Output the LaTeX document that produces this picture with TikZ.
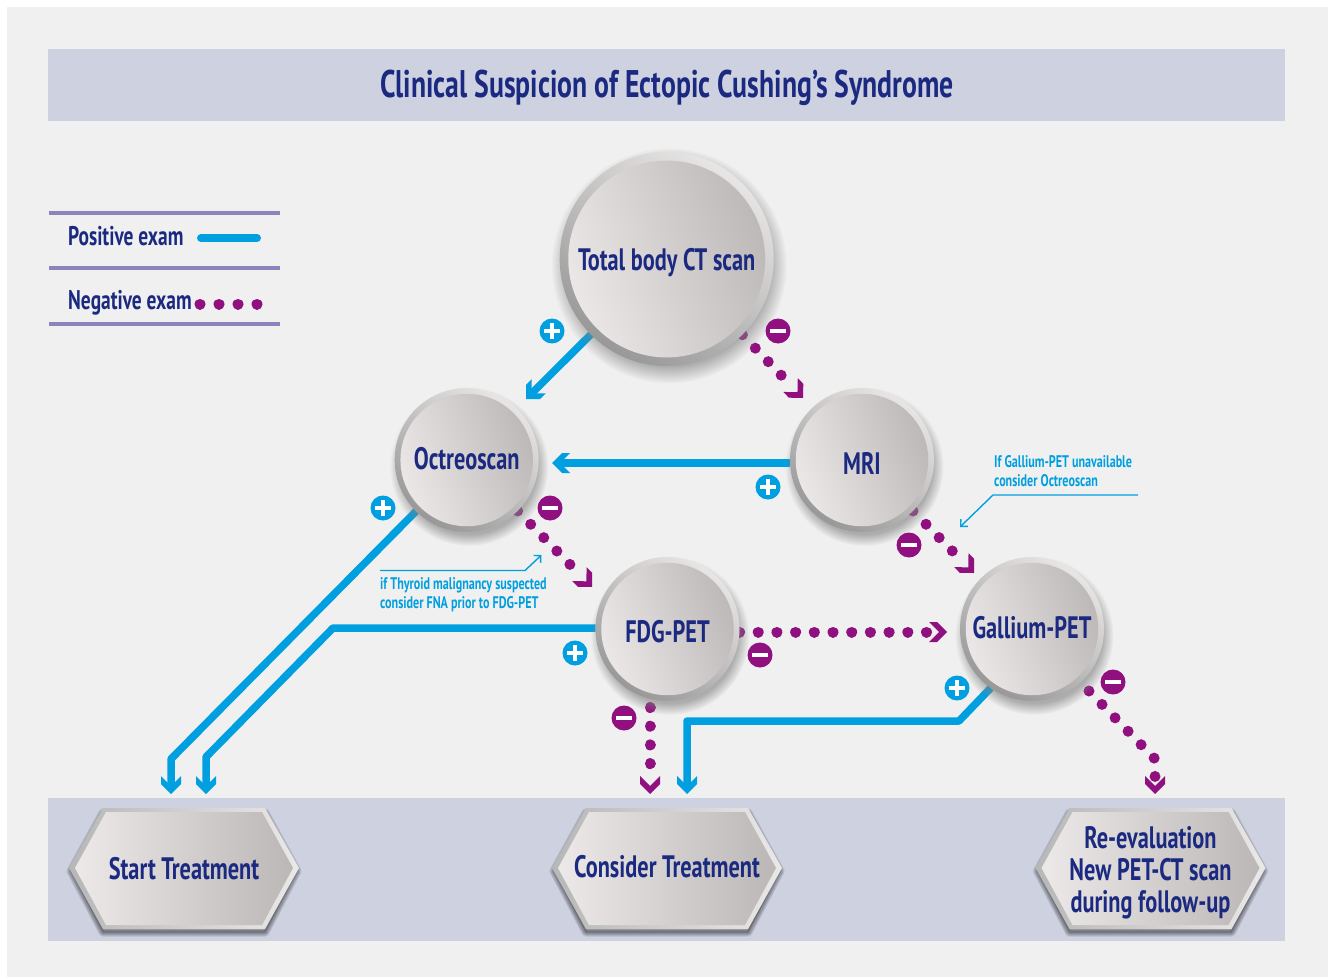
\documentclass[tikz,border=0pt]{standalone}
\usepackage{fontspec}
\setmainfont[FakeStretch=0.72]{PT Sans}
\usetikzlibrary{arrows.meta, shadows, backgrounds}

\definecolor{navytext}{HTML}{1B2A80}
\definecolor{posblue}{HTML}{009FE0}
\definecolor{negpurple}{HTML}{90107F}
\definecolor{bandblue}{HTML}{CDD1E0}
\definecolor{pagegray}{HTML}{F0F0F0}
\definecolor{legendline}{HTML}{8F83BB}
\definecolor{discdark}{HTML}{BAB7B6}
\definecolor{disclight}{HTML}{ECE9E8}
\definecolor{ringdark}{HTML}{989898}
\definecolor{ringlight}{HTML}{E8E6E5}

\pgfdeclarearrow{
  name = Chevron,
  defaults = {length=7pt},
  setup code = {
    \pgfarrowssettipend{0pt}
    \pgfarrowssetbackend{-18pt}
    \pgfarrowssetlineend{-\pgfarrowlength}
  },
  drawing code = {
    \pgfpathmoveto{\pgfqpoint{0pt}{0pt}}
    \pgfpathlineto{\pgfqpoint{-10pt}{10pt}}
    \pgfpathlineto{\pgfqpoint{-18pt}{10pt}}
    \pgfpathlineto{\pgfqpoint{-8pt}{0pt}}
    \pgfpathlineto{\pgfqpoint{-18pt}{-10pt}}
    \pgfpathlineto{\pgfqpoint{-10pt}{-10pt}}
    \pgfpathclose
    \pgfusepathqfill
  }
}

\newcommand{\nudged}[2]{\raisebox{#1}[\height][\depth]{#2}}

\tikzset{
  bubble/.style={circle, minimum size=#1pt, inner sep=0pt, outer sep=0pt,
    top color=ringlight, bottom color=ringdark, shading angle=-35,
    text=navytext, font=\fontsize{31}{34}\selectfont\bfseries,
    circular drop shadow={shadow xshift=2pt, shadow yshift=-6pt, shadow scale=1.1, opacity=.6},
    path picture={\shade[top color=discdark, bottom color=disclight, shading angle=-70]
      (path picture bounding box.center) circle ({#1*.46});}},
  posline/.style={posblue, line width=7.5pt, line join=round, -{Chevron}},
  negline/.style={negpurple, line width=11pt, line cap=round,
    dash pattern=on 0.01pt off 18.69pt, -{Chevron}},
  negshort/.style={negline, -{Chevron[length=15pt]}},
  plusmark/.style={circle, minimum size=25pt, inner sep=0pt, fill=posblue,
    path picture={\fill[white] ([shift={(-8,-1.8)}]path picture bounding box.center) rectangle ++(16,3.6);
      \fill[white] ([shift={(-1.8,-8)}]path picture bounding box.center) rectangle ++(3.6,16);}},
  minusmark/.style={circle, minimum size=25pt, inner sep=0pt, fill=negpurple,
    path picture={\fill[white] ([shift={(-8,-2.2)}]path picture bounding box.center) rectangle ++(16,4.4);}},
  notetext/.style={text=posblue, align=left, anchor=west, inner sep=0pt,
    font=\fontsize{16.8}{19}\selectfont\bfseries},
  noteline/.style={posblue, line width=1.4pt, -{Straight Barb[length=5pt,width=10pt]}},
  legendrule/.style={legendline, line width=4pt},
  legendtext/.style={text=navytext, anchor=west, inner sep=0pt,
    font=\fontsize{27}{30}\selectfont\bfseries},
  hextext/.style={text=navytext, align=center, inner sep=0pt,
    font=\fontsize{31}{32}\selectfont\bfseries}
}

\begin{document}
\begin{tikzpicture}[x=1pt, y=-1pt]
    \useasboundingbox (0,0) rectangle (1333,979);
    \begin{scope}[on background layer]
        \fill[white] (0,0) rectangle (1333,979);
        \fill[pagegray] (7,7) rectangle (1328,977);
    \end{scope}
    \fill[bandblue] (48,49) rectangle (1285,121);
    \fill[bandblue] (48,798) rectangle (1285,941);
    \node[text=navytext, font=\fontsize{38.5}{40}\selectfont\bfseries] (title) at (667,88) {Clinical Suspicion of Ectopic Cushing’s Syndrome};

    % legend
    \foreach \ly in {213,268,324}
        \draw[legendrule] (49,\ly) -- (280,\ly);
    \node[legendtext] (legpos) at (68,236.5) {Positive exam};
    \node[legendtext] (legneg) at (68,302.5) {Negative exam};
    \draw[posblue, line width=8pt, line cap=round] (201,238) -- (257,238);
    \draw[negpurple, line width=11pt, line cap=round, dash pattern=on 0.01pt off 18.99pt] (200,304) -- (258,304);

    % hexagons
    \foreach \hname/\cx/\hy/\htxt in {start/184/869/{Start Treatment}, cons/667/867/{Consider Treatment}, reev/1150.5/873/{Re-evaluation\\New PET-CT scan\\during follow-up}} {
        \foreach \w in {1,3,...,9}
            \draw[black, opacity=.1, line width=\w pt, line join=round, fill=black, fill opacity=.02]
                (\cx-113,871) -- (\cx-81,813) -- (\cx+81,813) -- (\cx+113,871) -- (\cx+81,932) -- (\cx-81,932) -- cycle;
        \shade[left color=ringdark!70!white, right color=ringlight!90!white]
            (\cx-115,868) -- (\cx-81,808) -- (\cx+81,808) -- (\cx+115,868) -- (\cx+81,929) -- (\cx-81,929) -- cycle;
        \shade[left color=disclight, right color=discdark]
            (\cx-109,868) -- (\cx-78,812) -- (\cx+78,812) -- (\cx+109,868) -- (\cx+78,925) -- (\cx-78,925) -- cycle;
        \node[hextext] (\hname) at (\cx,\hy) {\htxt};
    }

    % discs
    \node[bubble=214] (ct) at (666.7,259) {\nudged{-4pt}{Total body CT scan}};
    \node[bubble=144] (octreo) at (466.7,460) {\nudged{1pt}{Octreoscan}};
    \node[bubble=144] (mri) at (862,460) {\nudged{-3pt}{MRI}};
    \node[bubble=144] (fdg) at (667.5,629) {\nudged{-3pt}{FDG-PET}};
    \node[bubble=144] (gallium) at (1032,629) {\nudged{1pt}{Gallium-PET}};

    % free ends of the connectors
    \coordinate (octintop) at (526,399);
    \coordinate (octin) at (552,463);
    \coordinate (mriin) at (803,398);
    \coordinate (fdgin) at (592,587);
    \coordinate (galin) at (974,573);
    \coordinate (galside) at (947,632);
    \coordinate (startbenda) at (171,759);
    \coordinate (starta) at (171,794);
    \coordinate (startbendb1) at (333,628);
    \coordinate (startbendb2) at (206,757);
    \coordinate (startb) at (206,794);
    \coordinate (consbend1) at (959,721);
    \coordinate (consbend2) at (687,721);
    \coordinate (consa) at (687,794);
    \coordinate (consstart) at (650,707.5);
    \coordinate (consb) at (650,794);
    \coordinate (restart) at (1089,691);
    \coordinate (rebend) at (1155,759);
    \coordinate (reend) at (1155,794);

    \begin{scope}[on background layer]
        % blue connectors
        \draw[posline] (ct) -- (octintop);
        \draw[posline] (mri.west |- octin) -- (octin);
        \draw[posline] (octreo) -- (startbenda) -- (starta);
        \draw[posline] (fdg.west |- startbendb1) -- (startbendb1) -- (startbendb2) -- (startb);
        \draw[posline] (gallium.-125) -- (consbend1) -- (consbend2) -- (consa);

        % purple connectors
        \draw[negshort] (ct.-45) -- (mriin);
        \draw[negshort] (octreo.-45) -- (fdgin);
        \draw[negshort] (mri.-45) -- (galin);
        \draw[negline] (fdg.east |- galside) -- (galside);
        \draw[negshort] (consstart) -- (consb);
        \draw[negline] (restart) -- (rebend) -- (reend);
    \end{scope}

    % plus and minus marks
    \foreach \pname/\px/\py in {plusct/552/331, plusmri/768/487, plusoct/383/508, plusfdg/575/653, plusgal/957/688}
        \node[plusmark] (\pname) at (\px,\py) {};
    \foreach \mname/\mx/\my in {minusct/778/331, minusoct/550/508, minusmri/909/545, minusfdg/760/655, minusfdgb/624/718, minusgal/1113/682}
        \node[minusmark] (\mname) at (\mx,\my) {};

    % notes
    \node[notetext] (thyroid) at (380,594.5) {if Thyroid malignancy suspected\\consider FNA prior to FDG-PET};
    \node[notetext] (galnote) at (994,471.5) {If Gallium-PET unavailable\\consider Octreoscan};
    \draw[noteline] (380,570.5) -- (525,570.5) -- (541.5,555);
    \draw[noteline] (1138,495) -- (993,495) -- (960,527);
\end{tikzpicture}
\end{document}
